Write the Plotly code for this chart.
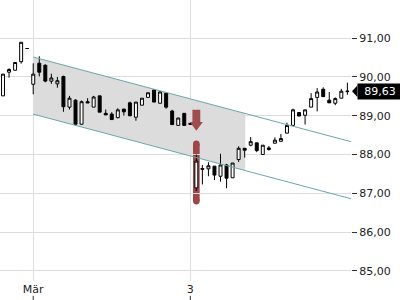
import plotly.graph_objects as go

# ---- data ----
idx = list(range(58))
opens = [89.51, 90.12, 90.17, 90.39, 90.73, 89.81, 90.35, 90.30, 89.89, 89.82,
         90.01, 89.22, 89.40, 88.78, 89.36, 89.22, 89.51, 89.06, 89.04, 88.95,
         89.17, 89.33, 88.96, 89.27, 89.47, 89.66, 89.32, 89.58, 89.12, 88.75,
         89.06, 88.80, 87.14, 87.64, 87.63, 87.70, 87.44, 87.73, 87.40, 87.87,
         88.16, 88.24, 88.30, 88.00, 88.17, 88.29, 88.34, 88.55, 88.75, 89.08,
         89.01, 89.22, 89.47, 89.68, 89.40, 89.32, 89.45, 89.62]
highs = [90.07, 90.22, 90.37, 90.89, 90.74, 90.35, 90.53, 90.32, 90.08, 90.00,
         90.03, 89.51, 89.42, 89.39, 89.45, 89.51, 89.51, 89.16, 89.09, 89.19,
         89.17, 89.36, 89.35, 89.45, 89.59, 89.68, 89.64, 89.58, 89.15, 88.94,
         89.06, 88.80, 88.00, 87.73, 87.80, 87.70, 88.02, 87.76, 87.78, 88.21,
         88.16, 88.45, 88.30, 88.24, 88.22, 88.44, 88.53, 88.82, 89.18, 89.08,
         89.15, 89.58, 89.71, 89.73, 89.61, 89.47, 89.69, 89.85]
lows = [89.51, 89.98, 90.17, 90.34, 90.72, 89.55, 90.01, 89.86, 89.82, 89.72,
        89.10, 89.16, 88.77, 88.77, 89.33, 89.22, 89.09, 89.02, 88.90, 88.93,
        89.00, 88.98, 88.87, 89.27, 89.47, 89.35, 89.32, 89.18, 88.77, 88.75,
        88.75, 88.78, 87.06, 87.23, 87.44, 87.34, 87.30, 87.13, 87.40, 87.81,
        87.92, 88.21, 88.06, 88.00, 88.10, 88.29, 88.34, 88.55, 88.75, 88.99,
        88.77, 89.22, 89.11, 89.49, 89.33, 89.27, 89.45, 89.54]
closes = [90.07, 90.19, 90.37, 90.89, 90.73, 90.07, 90.12, 89.89, 89.97, 89.90,
          89.23, 89.45, 88.78, 89.36, 89.33, 89.48, 89.09, 89.02, 88.90, 89.15,
          89.10, 89.00, 89.35, 89.45, 89.59, 89.35, 89.61, 89.22, 88.77, 88.94,
          88.75, 88.78, 87.83, 87.62, 87.71, 87.47, 87.73, 87.39, 87.78, 88.16,
          88.11, 88.33, 88.10, 88.24, 88.13, 88.37, 88.41, 88.75, 89.15, 88.99,
          89.15, 89.44, 89.61, 89.49, 89.33, 89.44, 89.63, 89.63]

tick_idx = [5, 31]
tick_text = ["Mär", "3"]
y_ticks = [85, 86, 87, 88, 89, 90, 91]

# trend channel
channel_x = [5, 57.6]
channel_upper = [90.51, 88.33]
channel_lower = [89.04, 86.86]
shade_end = 40.1

# signal marker
signal_idx = 32
signal_low = 86.80
signal_high = 88.27
arrow_top = 89.15
arrow_neck = 88.84
arrow_tip = 88.61

x_range = [-0.5, 57.6]
y_range = [84.742, 91.979]

def interp(xq, xs, ys):
    t = (xq - xs[0]) / (xs[1] - xs[0])
    return ys[0] + t * (ys[1] - ys[0])

fig = go.Figure()

shapes = []

# shaded channel area (below candles)
u0, u1 = channel_upper[0], interp(shade_end, channel_x, channel_upper)
l0, l1 = channel_lower[0], interp(shade_end, channel_x, channel_lower)
shapes.append(dict(type="path", xref="x", yref="y", layer="below",
                   path=(f"M {channel_x[0]},{u0} L {shade_end},{u1} "
                         f"L {shade_end},{l1} L {channel_x[0]},{l0} Z"),
                   fillcolor="#dcdcdc", line=dict(width=0)))

# red signal bar (below candles) with rounded ends
sig_col = "#9e4646"
bw = 0.55          # half width in index units
ry = 0.09          # cap radius in price units
shapes.append(dict(type="rect", xref="x", yref="y", layer="below",
                   x0=signal_idx - bw, x1=signal_idx + bw,
                   y0=signal_low, y1=signal_high,
                   fillcolor=sig_col, line=dict(width=0)))
for yc in (signal_low, signal_high):
    shapes.append(dict(type="circle", xref="x", yref="y", layer="below",
                       x0=signal_idx - bw, x1=signal_idx + bw,
                       y0=yc - ry, y1=yc + ry,
                       fillcolor=sig_col, line=dict(width=0)))

# candles
fig.add_trace(go.Candlestick(
    x=idx, open=opens, high=highs, low=lows, close=closes,
    increasing=dict(line=dict(color="#000000", width=1), fillcolor="#ffffff"),
    decreasing=dict(line=dict(color="#000000", width=1), fillcolor="#000000"),
    whiskerwidth=0, showlegend=False))

# channel lines
for ys in (channel_upper, channel_lower):
    fig.add_trace(go.Scatter(x=channel_x, y=ys, mode="lines",
                             line=dict(color="#6aa6ad", width=1),
                             hoverinfo="skip", showlegend=False))

# arrow shape
sw, hw = 0.65, 1.08
arrow_path = (f"M {signal_idx - sw},{arrow_top} L {signal_idx + sw},{arrow_top} "
              f"L {signal_idx + sw},{arrow_neck} L {signal_idx + hw},{arrow_neck} "
              f"L {signal_idx},{arrow_tip} L {signal_idx - hw},{arrow_neck} "
              f"L {signal_idx - sw},{arrow_neck} Z")
shapes.append(dict(type="path", path=arrow_path, xref="x", yref="y",
                   fillcolor="#a04c4a", line=dict(width=0), layer="above"))

# x tick marks below labels
for t in tick_idx:
    shapes.append(dict(type="line", xref="x", yref="paper", x0=t, x1=t,
                       y0=-0.053, y1=-0.07, line=dict(color="#333333", width=1)))

# last price marker
last = closes[-1]
shapes.append(dict(type="path", xref="paper", yref="y",
                   path=f"M 1.003,{last} L 1.018,{last + 0.15} L 1.018,{last - 0.15} Z",
                   fillcolor="#000000", line=dict(width=0)))

annotations = [dict(xref="paper", yref="y", x=1.016, y=last, xanchor="left",
                    yanchor="middle", showarrow=False,
                    text=f"{last:.2f}".replace(".", ","),
                    font=dict(color="#ffffff", size=11, family="DejaVu Sans"),
                    bgcolor="#000000", borderpad=1, width=42, align="center")]

fig.update_layout(
    width=400, height=300,
    margin=dict(l=0, r=49, t=0, b=19),
    paper_bgcolor="#ffffff", plot_bgcolor="#ffffff",
    font=dict(family="DejaVu Sans", size=11, color="#222222"),
    separators=",.",
    shapes=shapes, annotations=annotations,
    showlegend=False,
    xaxis=dict(range=x_range, tickvals=tick_idx, ticktext=tick_text,
               showgrid=True, gridcolor="#dddddd", gridwidth=1,
               zeroline=False, showline=False, ticks="",
               rangeslider=dict(visible=False), fixedrange=True),
    yaxis=dict(range=y_range, side="right", tickvals=y_ticks, tickformat=".2f",
               showgrid=True, gridcolor="#dddddd", gridwidth=1,
               zeroline=False, showline=False, ticks="outside", ticklen=5,
               tickcolor="#333333", fixedrange=True),
)

fig.write_html("out.html")
